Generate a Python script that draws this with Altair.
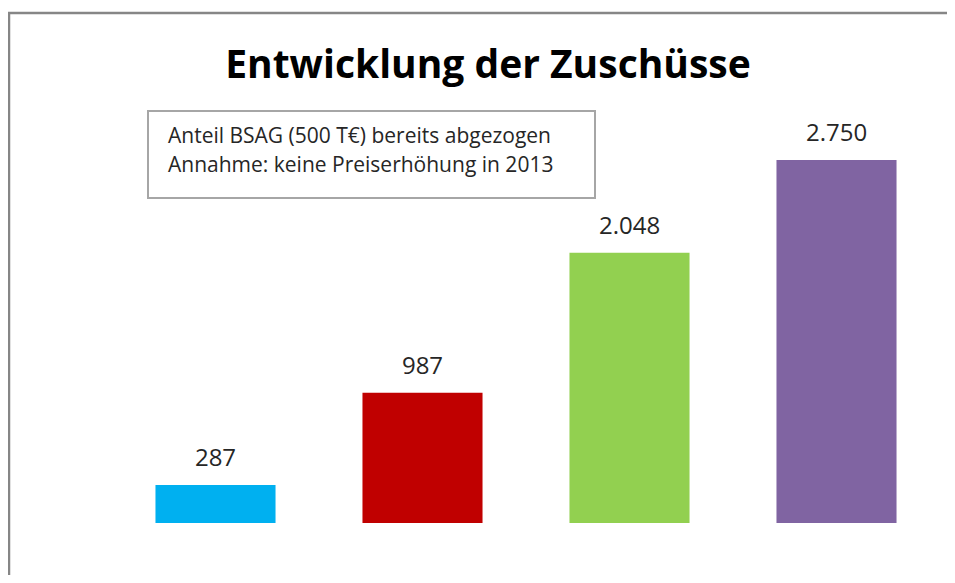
import altair as alt
import pandas as pd

categories = ["2010", "2011", "2012", "Prognose 2013"]
values = [287, 987, 2048, 2750]
labels = ["287", "987", "2.048", "2.750"]
colors = ["#00B0F0", "#C00000", "#92D050", "#8064A2"]
title_text = "Entwicklung der Zuschüsse"
note_line1 = "Anteil BSAG (500 T€) bereits abgezogen"
note_line2 = "Annahme: keine Preiserhöhung  in 2013"

df = pd.DataFrame({"Jahr": categories, "Wert": values, "Label": labels})
FONT = "Open Sans"
W, H = 828, 396

x_enc = alt.X("Jahr:N", sort=categories,
              scale=alt.Scale(paddingInner=0.42, paddingOuter=0.21),
              axis=alt.Axis(title=None, labelAngle=0, labelFontSize=22.5, labelColor="#262626",
                            labelFont=FONT, domainColor="#868686", tickColor="#868686",
                            tickSize=7, tickBand="extent", labelPadding=14, domainWidth=1.3))

y_enc = alt.Y("Wert:Q", scale=alt.Scale(domain=[0, 3000]),
              axis=alt.Axis(values=[0, 500, 1000, 1500, 2000, 2500, 3000],
                            labelExpr="replace(format(datum.value, ','), ',', '.')",
                            labelFontSize=22.5, labelColor="#262626", labelFont=FONT,
                            domainColor="#868686", tickColor="#868686", tickSize=7,
                            labelPadding=17, grid=False, domainWidth=1.3,
                            title="Tausend €", titleAngle=0, titleX=-94, titleY=-39,
                            titleAlign="left", titleBaseline="middle", titleFontSize=22,
                            titleFont=FONT, titleFontWeight="bold", titleColor="#000000"))

base = alt.Chart(df).encode(x=x_enc, y=y_enc)

bars = base.mark_bar().encode(
    color=alt.Color("Jahr:N", sort=categories,
                    scale=alt.Scale(domain=categories, range=colors), legend=None),
)

value_text = base.mark_text(baseline="alphabetic", dy=-19, fontSize=24,
                            font=FONT, color="#262626").encode(text="Label:N")

one = pd.DataFrame({"a": [0]})

note_box = alt.Chart(one).mark_rect(
    fill="white", stroke="#A6A6A6", strokeWidth=2).encode(
    x=alt.value(36), x2=alt.value(483), y=alt.value(-16), y2=alt.value(71))

note_t1 = alt.Chart(one).mark_text(align="left", baseline="alphabetic", fontSize=21,
                                   font=FONT, color="#262626", text=note_line1).encode(
    x=alt.value(56), y=alt.value(16))
note_t2 = alt.Chart(one).mark_text(align="left", baseline="alphabetic", fontSize=21,
                                   font=FONT, color="#262626", text=note_line2).encode(
    x=alt.value(56), y=alt.value(45))

title_mark = alt.Chart(one).mark_text(align="center", baseline="alphabetic", fontSize=39,
                                      fontWeight="bold", font=FONT, color="#000000",
                                      text=title_text).encode(
    x=alt.value(376), y=alt.value(-49))

# grey frame band: a grey rectangle covered by a white one, leaving only left and top edges
frame_outer = alt.Chart(one).mark_rect(fill="#868686", stroke=None).encode(
    x=alt.value(-104.25), x2=alt.value(W + 300), y=alt.value(-115.25), y2=alt.value(H + 300))
frame_inner = alt.Chart(one).mark_rect(fill="white", stroke=None).encode(
    x=alt.value(-101.75), x2=alt.value(W + 300), y=alt.value(-112.75), y2=alt.value(H + 300))

chart = alt.layer(frame_outer, frame_inner, bars, value_text, note_box, note_t1, note_t2,
                  title_mark).properties(
    width=W, height=H,
    background="white",
    autosize=alt.AutoSizeParams(type="none"),
    padding={"left": 104, "top": 119, "right": 7, "bottom": 52},
).configure_view(stroke=None)

chart.save("out.html", embed_options={"renderer": "svg", "actions": False})
